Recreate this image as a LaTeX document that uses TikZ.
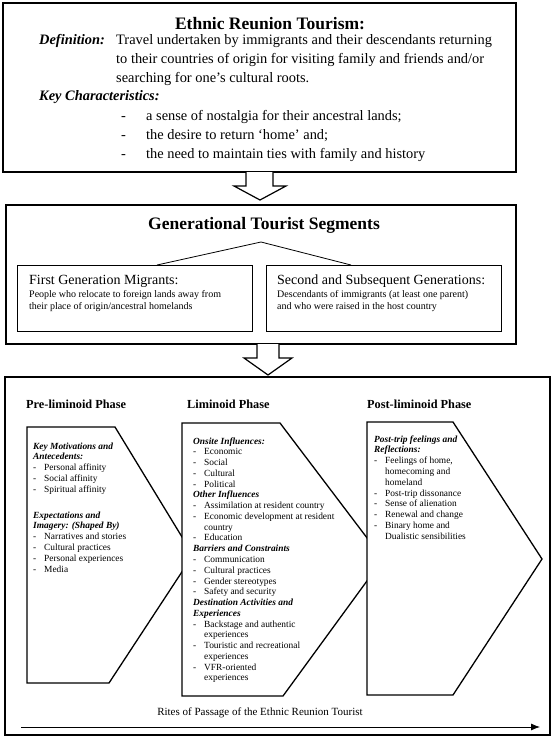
\documentclass[tikz,border=0pt]{standalone}
\usepackage{fontspec}
\setmainfont{Liberation Serif}
\usetikzlibrary{positioning,arrows.meta}

\newcommand{\bi}[1]{\textbf{\textit{#1}}}
\newcommand{\dashitem}[1]{\makebox[11pt][l]{-}#1}
\newcommand{\dashcont}{\hspace*{11pt}}
\newcommand{\keyitem}[1]{\makebox[25pt][l]{-}#1}

\begin{document}
\begin{tikzpicture}[x=1pt,y=-1pt,
    panel/.style={draw,line width=1.3pt},
    subpanel/.style={draw,line width=0.8pt,inner sep=0pt,anchor=north west},
    phasebox/.style={draw,line width=1.3pt,fill=white,line join=miter},
    blockarrow/.style={draw,line width=1.2pt,fill=white},
    txt/.style={inner sep=0pt,anchor=base west},
    big/.style={font=\fontsize{14.4}{16}\selectfont},
    small/.style={font=\fontsize{9.4}{10.8}\selectfont}]
  \useasboundingbox (0,0) rectangle (553,737);

  % ETHNIC REUNION TOURISM
  \draw[panel] (3,3) rectangle (516,172);
  \node[inner sep=0pt,anchor=base,font=\fontsize{17.5}{19}\selectfont\bfseries] (ertitle) at (270,29) {Ethnic Reunion Tourism:};
  \node[txt,big] (deflabel) at (39,44) {\bi{Definition:}};
  \path (116,44) node[txt,big] (def1) {Travel undertaken by immigrants and their descendants returning}
              ++(0,19) node[txt,big] (def2) {to their countries of origin for visiting family and friends and/or}
              ++(0,19) node[txt,big] (def3) {searching for one’s cultural roots.};
  \node[txt,big] (keylabel) at (39,100) {\bi{Key Characteristics:}};
  \path (121,120) node[txt,big] (key1) {\keyitem{a sense of nostalgia for their ancestral lands;}}
               ++(0,19) node[txt,big] (key2) {\keyitem{the desire to return ‘home’ and;}}
               ++(0,19) node[txt,big] (key3) {\keyitem{the need to maintain ties with family and history}};

  \draw[blockarrow] (246,172) -- (246,186) -- (234,186) -- (260,200) -- (286,186) -- (273,186) -- (273,172);

  % GENERATIONAL TOURIST SEGMENTS
  \draw[panel] (6,205) rectangle (516,344);
  \node[inner sep=0pt,anchor=base,font=\fontsize{17.5}{19}\selectfont\bfseries] (gentitle) at (264,229) {Generational Tourist Segments};
  \node[subpanel,minimum width=235pt,minimum height=66pt] (firstgen) at (17,265) {};
  \node[subpanel,minimum width=235pt,minimum height=66pt] (secondgen) at (266,265) {};
  \coordinate (apex) at (261,242);
  \coordinate (lfoot) at (157,265);
  \coordinate (rfoot) at (351,265);
  \draw[line width=0.8pt] (lfoot) -- (apex) -- (rfoot);
  \path (29,284) node[txt,font=\fontsize{14}{16}\selectfont] (fghead) {First Generation Migrants:}
              ++(0,13.5) node[txt,font=\fontsize{10}{12}\selectfont] (fg1) {People who relocate to foreign lands away from}
              ++(0,12) node[txt,font=\fontsize{10}{12}\selectfont] (fg2) {their place of origin/ancestral homelands};
  \path (277,284) node[txt,font=\fontsize{14}{16}\selectfont] (sghead) {Second and Subsequent Generations:}
              ++(0,13.5) node[txt,font=\fontsize{10}{12}\selectfont] (sg1) {Descendants of immigrants (at least one parent)}
              ++(0,12) node[txt,font=\fontsize{10}{12}\selectfont] (sg2) {and who were raised in the host country};

  \draw[blockarrow] (257,344) -- (257,358) -- (244,358) -- (268,375) -- (292,358) -- (279,358) -- (279,344);

  % PHASES
  \draw[panel] (5,377) rectangle (550,735);
  \node[txt,font=\fontsize{12.3}{14}\selectfont\bfseries] (prephase) at (26,408) {Pre-liminoid Phase};
  \node[txt,font=\fontsize{12.3}{14}\selectfont\bfseries] (limphase) at (187,408) {Liminoid Phase};
  \node[txt,font=\fontsize{12.3}{14}\selectfont\bfseries] (postphase) at (367,408) {Post-liminoid Phase};

  \draw[phasebox] (27,427) -- (115,427) -- (193,555) -- (109,683) -- (27,683) -- cycle;
  \draw[phasebox] (182,423) -- (280,423) -- (383,559) -- (283,696) -- (182,696) -- cycle;
  \draw[phasebox] (367,422) -- (453,422) -- (542,559) -- (453,695) -- (367,695) -- cycle;

  \foreach \ln [count=\i from 0] in {{\bi{Key Motivations and}},{\bi{Antecedents:}},
      {\dashitem{Personal affinity}},{\dashitem{Social affinity}},{\dashitem{Spiritual affinity}}}
    \node[txt,small] (pre\i) at (33,449+\i*10.8) {\ln};
  \foreach \ln [count=\i from 0] in {{\bi{Expectations and}},{\bi{Imagery: (Shaped By)}},
      {\dashitem{Narratives and stories}},{\dashitem{Cultural practices}},
      {\dashitem{Personal experiences}},{\dashitem{Media}}}
    \node[txt,small] (img\i) at (33,518+\i*10.8) {\ln};

  \foreach \ln [count=\i from 0] in {{\bi{Onsite Influences:}},{\dashitem{Economic}},{\dashitem{Social}},
      {\dashitem{Cultural}},{\dashitem{Political}},{\bi{Other Influences}},
      {\dashitem{Assimilation at resident country}},{\dashitem{Economic development at resident}},
      {\dashcont country},{\dashitem{Education}},{\bi{Barriers and Constraints}},
      {\dashitem{Communication}},{\dashitem{Cultural practices}},{\dashitem{Gender stereotypes}},
      {\dashitem{Safety and security}},{\bi{Destination Activities and}},{\bi{Experiences}},
      {\dashitem{Backstage and authentic}},{\dashcont experiences},
      {\dashitem{Touristic and recreational}},{\dashcont experiences},
      {\dashitem{VFR-oriented}},{\dashcont experiences}}
    \node[txt,small] (lim\i) at (193,444+\i*10.77) {\ln};

  \foreach \ln [count=\i from 0] in {{\bi{Post-trip feelings and}},{\bi{Reflections:}},
      {\dashitem{Feelings of home,}},{\dashcont homecoming and},{\dashcont homeland},
      {\dashitem{Post-trip dissonance}},{\dashitem{Sense of alienation}},
      {\dashitem{Renewal and change}},{\dashitem{Binary home and}},{\dashcont Dualistic sensibilities}}
    \node[txt,small] (post\i) at (374,442+\i*10.8) {\ln};

  % RITES OF PASSAGE
  \node[inner sep=0pt,anchor=base,font=\fontsize{11}{13}\selectfont] (rites) at (260,715.5) {Rites of Passage of the Ethnic Reunion Tourist};
  \coordinate (ritesstart) at (21,727);
  \coordinate (ritesend) at (540,727);
  \draw[-{Latex[length=9pt,width=7pt]},line width=0.8pt] (ritesstart) -- (ritesend);
\end{tikzpicture}
\end{document}
